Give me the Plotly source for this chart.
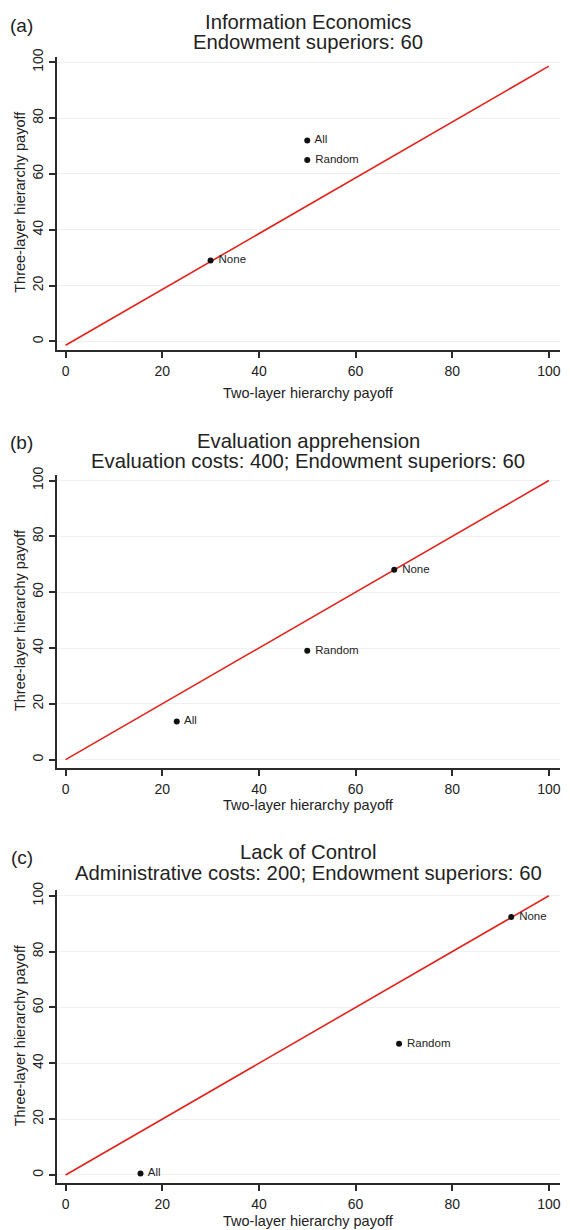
import plotly.graph_objects as go

W, H = 570, 1230

# ---------------- data ----------------
tick_vals = [0, 20, 40, 60, 80, 100]
tick_text = ["0", "20", "40", "60", "80", "100"]

panel_labels = ["(a)", "(b)", "(c)"]
titles_line1 = ["Information Economics", "Evaluation apprehension", "Lack of Control"]
titles_line2 = ["Endowment superiors: 60",
                "Evaluation costs: 400; Endowment superiors: 60",
                "Administrative costs: 200; Endowment superiors: 60"]

x_title = "Two-layer hierarchy payoff"
y_title = "Three-layer hierarchy payoff"

labels_a = ["All", "Random", "None"]
two_layer_a = [50, 50, 30]
three_layer_a = [72, 65, 29]

labels_b = ["None", "Random", "All"]
two_layer_b = [68, 50, 23]
three_layer_b = [68, 39, 13.7]

labels_c = ["None", "Random", "All"]
two_layer_c = [92.2, 69, 15.5]
three_layer_c = [92.4, 47, 0.5]

line_x = [0, 100]
line_y_a = [-1.4, 98.6]
line_y_b = [0, 100]
line_y_c = [0, 100]

panels = [
    (labels_a, two_layer_a, three_layer_a, line_y_a),
    (labels_b, two_layer_b, three_layer_b, line_y_b),
    (labels_c, two_layer_c, three_layer_c, line_y_c),
]

# ---------------- layout geometry (pixels) ----------------
plot_top = [49, 470, 888]
plot_bot = [344, 765, 1183]
title1_y = [14, 436, 850]
title2_y = [34, 456, 871]
plab_y = [18, 437, 855]
xtitle_y = [388, 802, 1221]
x_left, x_right = 57, 561
x_range = [-1.8, 102.3]
y_range = [-3, 102]

def py(p):
    return 1 - p / H

def px(p):
    return p / W

FONT = "Liberation Sans, Arial, Helvetica, sans-serif"
AX_COL = "#2b2b2b"
GRID_COL = "#ecf2f4"
RED = "#e3231b"
TXT = "#222222"

fig = go.Figure()
annotations = []

for i, (labs, xs, ys, ly) in enumerate(panels):
    n = "" if i == 0 else str(i + 1)
    xa = "x" + n
    ya = "y" + n
    fig.add_trace(go.Scatter(
        x=line_x, y=ly, mode="lines", xaxis=xa, yaxis=ya,
        line=dict(color=RED, width=1.6), showlegend=False, hoverinfo="skip"))
    fig.add_trace(go.Scatter(
        x=xs, y=ys, mode="markers+text", xaxis=xa, yaxis=ya,
        text=[" " + t for t in labs], textposition="middle right",
        textfont=dict(family=FONT, size=11.5, color=TXT),
        marker=dict(color="#111111", size=6), showlegend=False))

    common = dict(
        showline=True, linecolor=AX_COL, linewidth=2,
        ticks="outside", ticklen=6, tickwidth=1.5, tickcolor=AX_COL,
        tickvals=tick_vals, ticktext=tick_text,
        tickfont=dict(family=FONT, size=14, color=TXT),
        zeroline=False, mirror=False,
    )
    fig.update_layout(**{
        "xaxis" + n: dict(
            domain=[px(x_left), px(x_right)], range=x_range,
            anchor=ya, showgrid=False, ticklabelstandoff=1, **common),
        "yaxis" + n: dict(
            domain=[py(plot_bot[i]), py(plot_top[i])], range=y_range,
            anchor=xa, showgrid=True, gridcolor=GRID_COL, gridwidth=1,
            tickangle=-90, **common),
    })

    annotations += [
        dict(text=panel_labels[i], x=px(22), y=py(plab_y[i]), xref="paper", yref="paper",
             showarrow=False, xanchor="center", yanchor="middle",
             font=dict(family=FONT, size=19, color=TXT)),
        dict(text=titles_line1[i], x=px(309), y=py(title1_y[i]), xref="paper", yref="paper",
             showarrow=False, xanchor="center", yanchor="middle",
             font=dict(family=FONT, size=20.3, color=TXT)),
        dict(text=titles_line2[i], x=px(309), y=py(title2_y[i]), xref="paper", yref="paper",
             showarrow=False, xanchor="center", yanchor="middle",
             font=dict(family=FONT, size=20.3, color=TXT)),
        dict(text=x_title, x=px(309), y=py(xtitle_y[i]), xref="paper", yref="paper",
             showarrow=False, xanchor="center", yanchor="middle",
             font=dict(family=FONT, size=14.5, color=TXT)),
        dict(text=y_title, x=px(20), y=50, xref="paper", yref=ya,
             showarrow=False, xanchor="center", yanchor="middle", textangle=-90,
             font=dict(family=FONT, size=14.5, color=TXT)),
    ]

fig.update_layout(
    width=W, height=H, margin=dict(l=0, r=0, t=0, b=0),
    paper_bgcolor="white", plot_bgcolor="white",
    annotations=annotations,
)

fig.write_html("out.html",
               config={"displayModeBar": False},
               post_script="document.body.style.margin='0';document.body.style.padding='0';")
